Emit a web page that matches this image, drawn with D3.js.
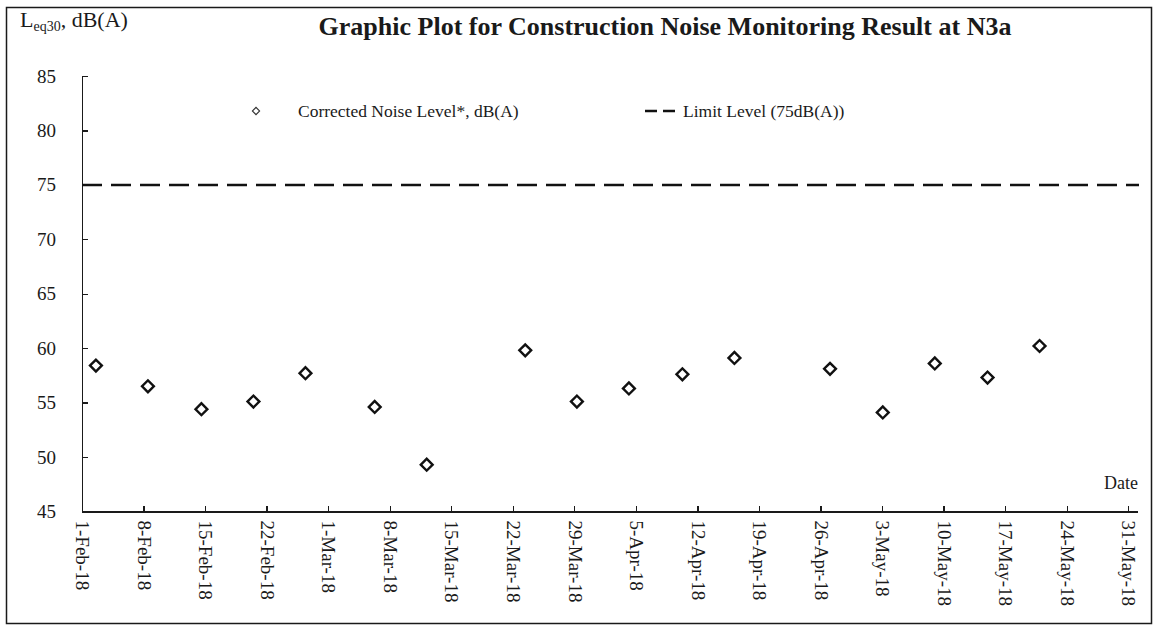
<!DOCTYPE html>
<html lang="en">
<head>
    <meta charset="UTF-8">
    <title>Construction Noise N3a</title>
    <script src="https://cdn.jsdelivr.net/npm/d3@7"></script>
</head>
<body>
<style>
    body {
        margin: 0;
        background-color: white;
    }
    svg text {
        font-family: "Liberation Serif", "Times New Roman", serif;
        fill: #1a1a1a;
    }
    .axis path,
    .axis line {
        fill: none;
        stroke: #1a1a1a;
        stroke-width: 1.3;
        shape-rendering: crispEdges;
    }
    .axis text {
        font-size: 19px;
    }
</style>

<svg width="1158" height="630"></svg>

<script>
    var dates = [
        "2018-02-02T14:00", "2018-02-08T12:00", "2018-02-14T14:00", "2018-02-20T12:00",
        "2018-02-26T10:00", "2018-03-06T07:00", "2018-03-12T05:00", "2018-03-23T10:00",
        "2018-03-29T07:00", "2018-04-04T05:00", "2018-04-10T07:00", "2018-04-16T05:00",
        "2018-04-27T02:00", "2018-05-03T02:00", "2018-05-09T00:00", "2018-05-15T00:00",
        "2018-05-20T22:00"
    ];
    var levels = [58.4, 56.5, 54.4, 55.1, 57.7, 54.6, 49.3, 59.8,
        55.1, 56.3, 57.6, 59.1, 58.1, 54.1, 58.6, 57.3, 60.2];
    var limitLevel = 75;

    var xTicks = ["2018-02-01", "2018-02-08", "2018-02-15", "2018-02-22", "2018-03-01",
        "2018-03-08", "2018-03-15", "2018-03-22", "2018-03-29", "2018-04-05",
        "2018-04-12", "2018-04-19", "2018-04-26", "2018-05-03", "2018-05-10",
        "2018-05-17", "2018-05-24", "2018-05-31"];
    var yTicks = [45, 50, 55, 60, 65, 70, 75, 80, 85];

    var parseT = d3.timeParse("%Y-%m-%dT%H:%M");
    var parseD = d3.timeParse("%Y-%m-%d");

    var svg = d3.select("svg");

    // outer frame
    svg.append("rect")
        .attr("x", 6.5).attr("y", 7.5)
        .attr("width", 1145).attr("height", 616)
        .attr("fill", "white")
        .attr("stroke", "#1a1a1a")
        .attr("stroke-width", 1.5);

    var getX = d3.scaleTime()
        .domain([parseD("2018-02-01"), parseD("2018-06-01")])
        .range([82, 1137]);
    var getY = d3.scaleLinear()
        .domain([45, 85])
        .range([511.5, 76]);

    var axisX = d3.axisBottom(getX)
        .tickValues(xTicks.map(parseD))
        .tickFormat(d3.timeFormat("%-d-%b-%y"))
        .tickSizeInner(-6)
        .tickSizeOuter(0);
    var axisY = d3.axisLeft(getY)
        .tickValues(yTicks)
        .tickSizeInner(-6)
        .tickSizeOuter(0)
        .tickPadding(26);

    var gx = svg.append("g")
        .attr("class", "axis")
        .attr("transform", "translate(0," + getY(45) + ")")
        .call(axisX);
    gx.selectAll("text")
        .attr("transform", "rotate(90)")
        .attr("x", 9)
        .attr("y", 0)
        .attr("dy", "0.33em")
        .attr("text-anchor", "start");

    svg.append("g")
        .attr("class", "axis")
        .attr("transform", "translate(" + getX.range()[0] + ",0)")
        .call(axisY);

    // limit line
    svg.append("line")
        .attr("x1", getX.range()[0])
        .attr("x2", getX.range()[1] + 2)
        .attr("y1", getY(limitLevel))
        .attr("y2", getY(limitLevel))
        .attr("stroke", "#111")
        .attr("stroke-width", 2.5)
        .attr("stroke-dasharray", "20,9");

    // data markers
    var diamond = d3.symbol().type(d3.symbolSquare).size(70);
    svg.selectAll(".pt")
        .data(levels)
        .enter()
        .append("path")
        .attr("class", "pt")
        .attr("d", diamond)
        .attr("transform", function (d, i) {
            return "translate(" + getX(parseT(dates[i])) + "," + getY(d) + ") rotate(45)";
        })
        .attr("fill", "white")
        .attr("stroke", "#111")
        .attr("stroke-width", 2.4);

    // title
    svg.append("text")
        .attr("x", 665)
        .attr("y", 35)
        .attr("text-anchor", "middle")
        .style("font-size", "26px")
        .style("font-weight", "bold")
        .text("Graphic Plot for Construction Noise Monitoring Result at N3a");

    // y axis label
    var yl = svg.append("text")
        .attr("x", 20)
        .attr("y", 27)
        .style("font-size", "22px");
    yl.append("tspan").text("L");
    yl.append("tspan").attr("dy", 4).style("font-size", "14px").text("eq30");
    yl.append("tspan").attr("dy", -4).text(", dB(A)");

    // x axis label
    svg.append("text")
        .attr("x", 1138)
        .attr("y", 489)
        .attr("text-anchor", "end")
        .style("font-size", "18px")
        .text("Date");

    // legend
    svg.append("path")
        .attr("d", d3.symbol().type(d3.symbolSquare).size(26))
        .attr("transform", "translate(256,111) rotate(45)")
        .attr("fill", "white")
        .attr("stroke", "#333")
        .attr("stroke-width", 1.1);
    svg.append("text")
        .attr("x", 298)
        .attr("y", 117)
        .style("font-size", "17.5px")
        .text("Corrected Noise Level*, dB(A)");
    svg.append("line")
        .attr("x1", 645).attr("x2", 681)
        .attr("y1", 111).attr("y2", 111)
        .attr("stroke", "#111")
        .attr("stroke-width", 2.5)
        .attr("stroke-dasharray", "12,6");
    svg.append("text")
        .attr("x", 683)
        .attr("y", 117)
        .style("font-size", "17.5px")
        .text("Limit Level (75dB(A))");
</script>
</body>
</html>
